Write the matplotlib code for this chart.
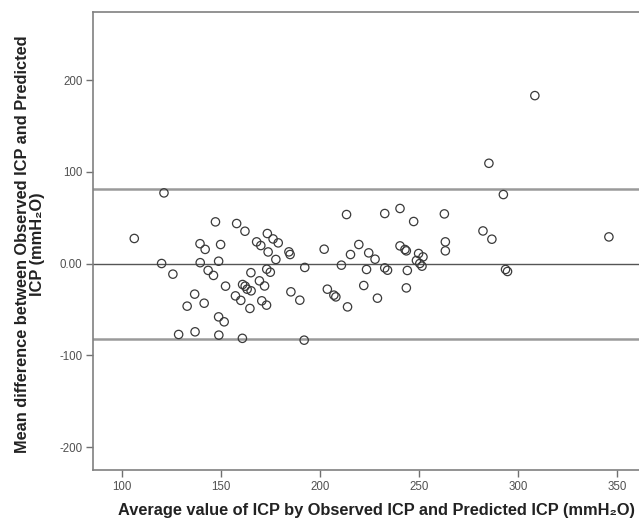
import matplotlib
matplotlib.use("Agg")
import matplotlib.pyplot as plt
from matplotlib.ticker import FixedLocator

plt.rcParams['font.family'] = ['Liberation Sans', 'DejaVu Sans']

# Average of observed and predicted ICP (mmH2O)
avg_icp = [106.1, 121.1, 119.9, 125.6, 139.3, 141.9, 139.4, 143.4, 146.1, 136.6,
           132.8, 141.4, 128.5, 136.8, 147.1, 148.7, 148.7, 148.8, 157.8, 162.0,
           149.7, 152.2, 151.5, 160.7, 167.9, 170.0, 173.3, 176.2, 178.8, 173.7,
           177.6, 184.2, 184.8, 192.2, 202.0, 203.6, 165.0, 173.0, 174.8, 169.3,
           171.9, 160.8, 162.1, 163.1, 165.1, 157.2, 159.9, 164.5, 170.5, 172.9,
           185.2, 189.7, 191.9, 213.3, 232.6, 240.3, 247.2, 219.5, 215.3, 224.5,
           227.7, 210.7, 223.4, 232.6, 234.0, 240.3, 242.8, 243.5, 249.7, 251.9,
           248.6, 250.3, 251.4, 244.0, 206.9, 207.9, 222.0, 213.8, 228.9, 243.5,
           308.4, 285.2, 292.5, 262.7, 282.2, 286.7, 345.8, 263.2, 263.2, 293.6,
           294.6]
# Difference between observed and predicted ICP (mmH2O)
diff_icp = [27.5, 77.2, 0.2, -11.4, 21.8, 15.6, 1.1, -7.3, -12.8, -33.2,
            -46.3, -43.1, -77.2, -74.3, 45.6, 2.7, -58.0, -77.9, 43.8, 35.4,
            20.9, -24.5, -63.4, -81.4, 23.8, 19.8, 32.9, 27.0, 22.7, 12.8,
            4.6, 12.9, 10.0, -4.1, 15.8, -27.8, -9.8, -6.0, -9.3, -18.7,
            -24.3, -22.7, -24.5, -27.8, -29.6, -35.1, -40.0, -48.8, -40.5, -45.2,
            -30.7, -39.8, -83.4, 53.6, 54.7, 60.2, 46.0, 20.9, 10.0, 11.8,
            4.9, -1.6, -6.3, -4.6, -7.1, 19.4, 15.5, 14.0, 11.1, 7.4,
            3.5, 0.2, -2.7, -7.4, -34.3, -36.2, -23.8, -47.1, -37.6, -26.4,
            183.3, 109.5, 75.4, 54.3, 35.7, 26.7, 29.2, 23.8, 14.0, -6.3,
            -8.5]

mean_diff = 0.0
upper_loa = 81.5
lower_loa = -82.0

y_ticks = [200, 100, 0, -100, -200]
y_tick_labels = ['200', '100', '0.00', '-100', '-200']
x_ticks = [100, 150, 200, 250, 300, 350]

fig = plt.figure(figsize=(6.39, 5.19), dpi=100)
ax = fig.add_axes([0.1463, 0.0944, 0.8537, 0.8834])

ax.axhline(upper_loa, color='#9a9a9a', lw=1.8, zorder=1)
ax.axhline(lower_loa, color='#9a9a9a', lw=1.8, zorder=1)
ax.axhline(mean_diff, color='#555555', lw=1.0, zorder=1)

ax.scatter(avg_icp, diff_icp, s=36, facecolors='none', edgecolors='#3a3a3a',
           linewidths=0.9, zorder=3)

ax.set_xlim(85.5, 361)
ax.set_ylim(-225, 275)

ax.yaxis.set_major_locator(FixedLocator(y_ticks))
ax.set_yticklabels(y_tick_labels)
ax.xaxis.set_major_locator(FixedLocator(x_ticks))

for s in ['left', 'bottom', 'top']:
    ax.spines[s].set_color('#808080')
    ax.spines[s].set_linewidth(1.2)
ax.spines['right'].set_visible(False)

ax.tick_params(axis='both', direction='out', length=5, width=1, color='#707070',
               labelsize=8.3, labelcolor='#505050', pad=3)
ax.tick_params(axis='x', top=False)
ax.tick_params(axis='y', right=False)

ax.set_xlabel('Average value of ICP by Observed ICP and Predicted ICP (mmH\u2082O)',
              fontsize=11.8, fontweight='bold', color='#222222')
ax.xaxis.set_label_coords(0.518, -0.072)
ax.set_ylabel('Mean difference between Observed ICP and Predicted\nICP (mmH\u2082O)',
              fontsize=11.8, fontweight='bold', color='#222222',
              linespacing=1.0)
ax.yaxis.set_label_coords(-0.089, 0.492)

fig.savefig('out.png', dpi=100)
